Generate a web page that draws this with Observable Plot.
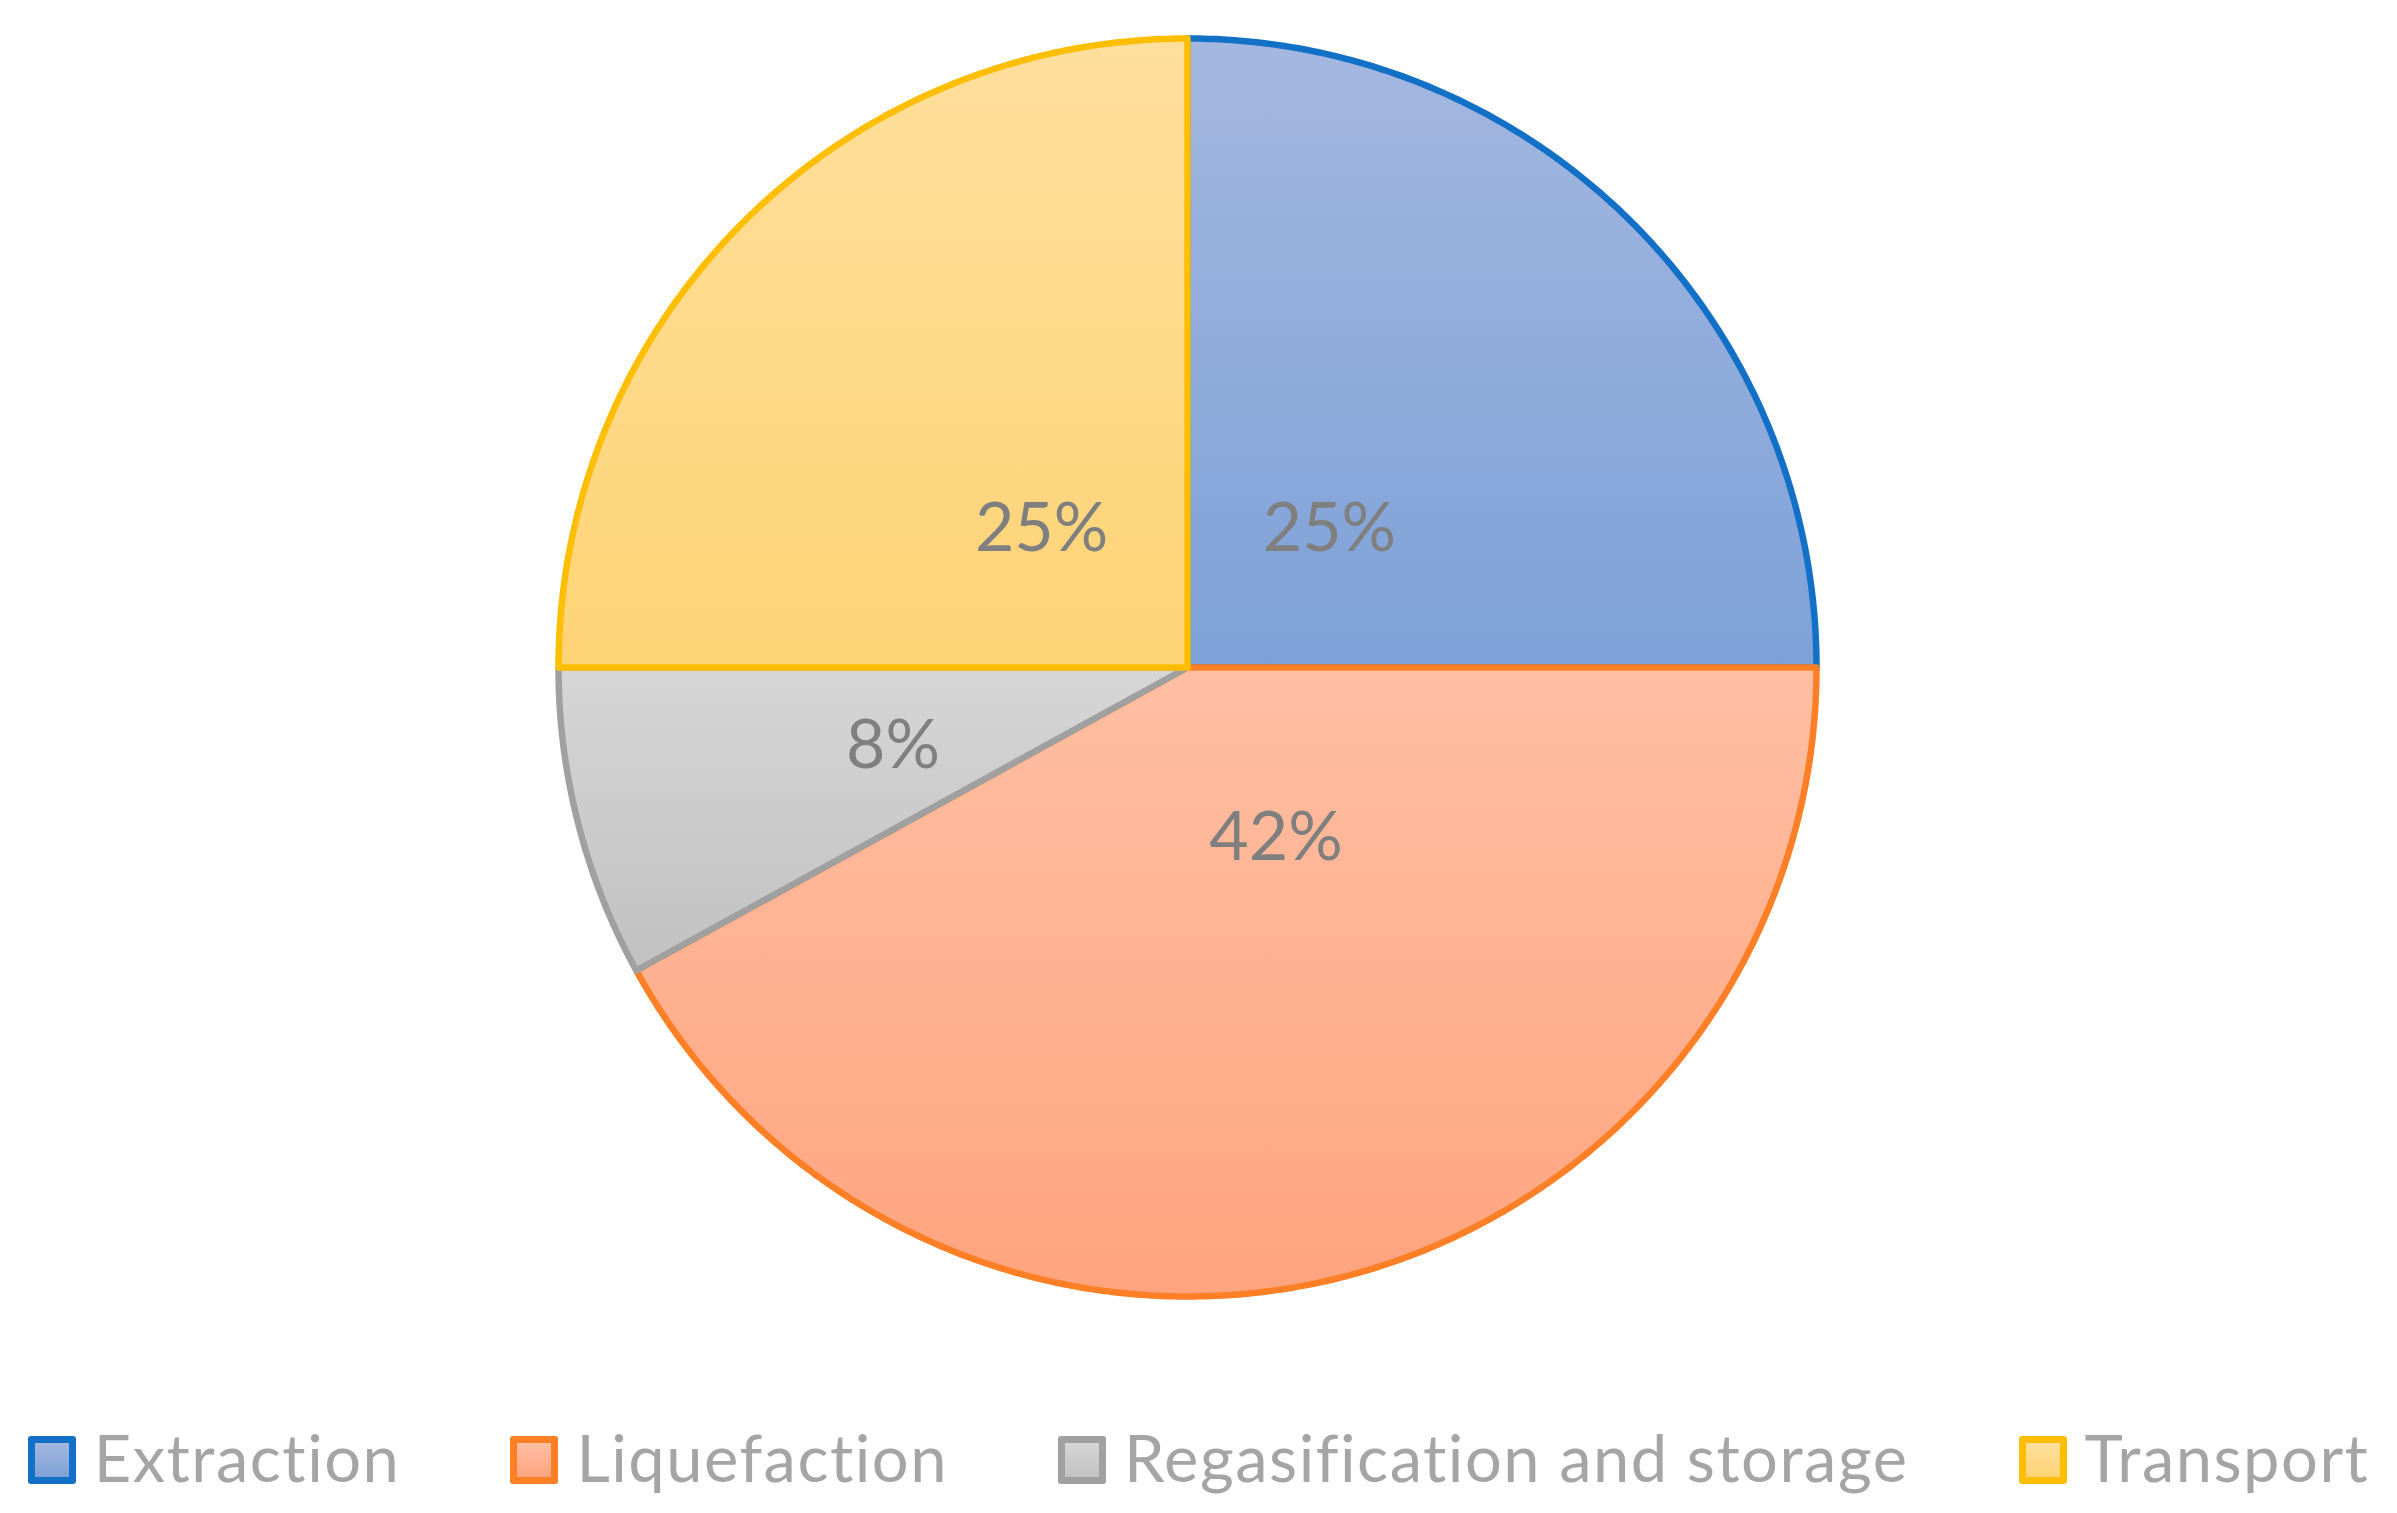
<!DOCTYPE html>
<html><head><meta charset="utf-8">
<script src="https://cdn.jsdelivr.net/npm/d3@7"></script>
<script src="https://cdn.jsdelivr.net/npm/@observablehq/plot@0.6"></script>
<style>
html,body{margin:0;padding:0;background:#fff;}
#chart{position:relative;width:2397px;height:1513px;overflow:hidden;}
#chart svg{display:block;}
.legend{position:absolute;left:0;top:1436px;width:2397px;height:48px;display:flex;justify-content:center;align-items:center;font-family:Lato,"Open Sans",sans-serif;font-size:65px;letter-spacing:1.5px;color:#A5A5A5;}
.item{display:flex;align-items:center;height:48px;margin:0 55px;}
.sw{width:48px;height:48px;box-sizing:border-box;border-width:7px;border-style:solid;border-radius:3px;margin-right:18px;}
.lbl{line-height:48px;position:relative;top:-3px;white-space:nowrap;}
</style></head><body><div id="chart"></div>
<script>
const categories = ["Extraction", "Liquefaction", "Regasification and storage", "Transport"];
const shares = [25, 42, 8, 25];
const labels = ["25%", "42%", "8%", "25%"];
const strokeColors = ["#1270C6", "#FE7F26", "#A0A0A0", "#FFBE00"];
const gradTop = ["#A4B7E1", "#FFBFA3", "#D6D6D6", "#FEDF9C"];
const gradBottom = ["#7DA1D7", "#FFA47F", "#C1C1C1", "#FED375"];

const total = d3.sum(shares);
let acc = 0;
const slices = shares.map((v, i) => {
  const a0 = acc / total * 2 * Math.PI;
  acc += v;
  const a1 = acc / total * 2 * Math.PI;
  return {i, category: categories[i], value: v, a0, a1};
});

// polygon vertices for each slice (center + arc)
const polys = slices.map(s => {
  const n = Math.max(8, Math.ceil((s.a1 - s.a0) / (Math.PI / 360)));
  const pts = [{x: 0, y: 0}];
  for (let k = 0; k <= n; k++) {
    const a = s.a0 + (s.a1 - s.a0) * k / n;
    pts.push({x: Math.sin(a), y: Math.cos(a)});
  }
  return pts;
});

const labelData = slices.map(s => {
  const m = (s.a0 + s.a1) / 2;
  const frac = s.value / total;
  const r = frac < 0.1 ? 0.49 : 0.31;
  const kind = frac > 0.4 ? "big" : frac < 0.1 ? "small" : (m > Math.PI ? "left" : "right");
  return {x: r * Math.sin(m), y: r * Math.cos(m), text: labels[s.i], kind};
});

const cx = 1187, cy = 667, R = 629;
const font = "Lato, 'Open Sans', sans-serif";

const marks = polys.map((pts, i) => Plot.line(pts, {
  x: "x", y: "y", curve: "linear-closed",
  fill: `url(#g${i})`, stroke: strokeColors[i], strokeWidth: 6.5, strokeLinejoin: "round"
}));
const textStyle = {x: "x", y: "y", text: "text", fontSize: 68, fill: "#7F7F7F", fontFamily: font,
  textAnchor: "middle", lineAnchor: "middle"};
marks.push(Plot.text(labelData.filter(d => d.kind === "right"), {...textStyle, dx: 4}));
marks.push(Plot.text(labelData.filter(d => d.kind === "left"), {...textStyle, dx: -8}));
marks.push(Plot.text(labelData.filter(d => d.kind === "small"), {...textStyle, dx: 4, dy: 2}));
marks.push(Plot.text(labelData.filter(d => d.kind === "big"), {...textStyle, dx: 40, dy: -18}));

const svg = Plot.plot({
  width: 2397, height: 1400,
  margin: 0,
  x: {domain: [-1, 1], range: [cx - R, cx + R], axis: null},
  y: {domain: [-1, 1], range: [cy + R, cy - R], axis: null},
  style: {fontFamily: font, background: "white"},
  marks
});

const defs = d3.select(svg).insert("defs", ":first-child");
slices.forEach(s => {
  const g = defs.append("linearGradient").attr("id", `g${s.i}`)
    .attr("x1", 0).attr("y1", 0).attr("x2", 0).attr("y2", 1);
  g.append("stop").attr("offset", "0%").attr("stop-color", gradTop[s.i]);
  g.append("stop").attr("offset", "100%").attr("stop-color", gradBottom[s.i]);
});

const chart = document.getElementById("chart");
chart.appendChild(svg);

const legend = document.createElement("div");
legend.className = "legend";
categories.forEach((c, i) => {
  const it = document.createElement("div");
  it.className = "item";
  const sw = document.createElement("div");
  sw.className = "sw";
  sw.style.borderColor = strokeColors[i];
  sw.style.background = `linear-gradient(to bottom, ${gradTop[i]}, ${gradBottom[i]})`;
  const lb = document.createElement("span");
  lb.className = "lbl";
  lb.textContent = c;
  it.appendChild(sw); it.appendChild(lb);
  legend.appendChild(it);
});
chart.appendChild(legend);
</script>
</body></html>
